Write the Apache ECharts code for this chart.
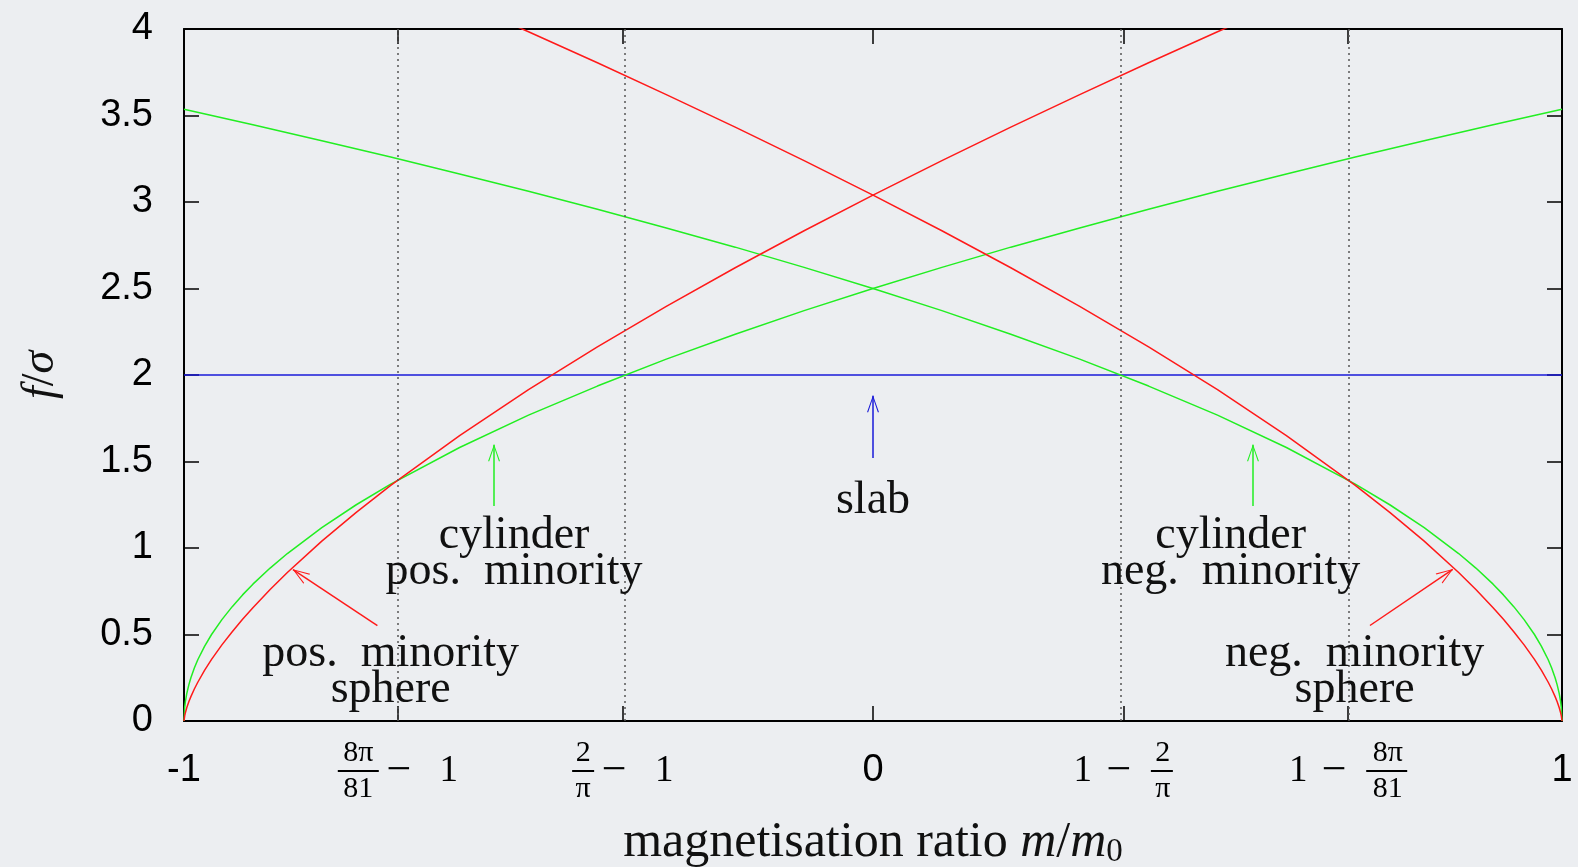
<!DOCTYPE html>
<html>
<head>
<meta charset="utf-8">
<title>Minority-phase energy vs magnetisation ratio</title>
<script src="https://cdn.jsdelivr.net/npm/echarts@6/dist/echarts.min.js"></script>
<style>
  html, body { margin: 0; padding: 0; background: #eceef1; }
  #chart { width: 1578px; height: 867px; }
</style>
</head>
<body>
<div id="chart"></div>
<script>
// magnetisation ratio m/m0 sampled along the positive-minority branches
const mPos = [-1, -0.999, -0.998, -0.996, -0.993, -0.99, -0.985, -0.98, -0.97, -0.96, -0.945, -0.93, -0.915, -0.9,
  -0.875, -0.85, -0.8, -0.75, -0.7, -0.6, -0.5, -0.4, -0.3, -0.2, -0.1, 0, 0.1, 0.2, 0.3, 0.4, 0.5, 0.6, 0.7, 0.8, 0.9, 1];
// same samples for the negative-minority branches
const mNeg = [1, 0.999, 0.998, 0.996, 0.993, 0.99, 0.985, 0.98, 0.97, 0.96, 0.945, 0.93, 0.915, 0.9,
  0.875, 0.85, 0.8, 0.75, 0.7, 0.6, 0.5, 0.4, 0.3, 0.2, 0.1, 0, -0.1, -0.2, -0.3, -0.4, -0.5, -0.6, -0.7, -0.8, -0.9, -1];

// f/sigma for a cylinder domain
const cylinderF = [0, 0.079, 0.112, 0.158, 0.209, 0.25, 0.306, 0.354, 0.433, 0.5, 0.586, 0.661, 0.729, 0.791,
  0.884, 0.968, 1.118, 1.25, 1.369, 1.581, 1.768, 1.936, 2.092, 2.236, 2.372, 2.5, 2.622, 2.739, 2.85, 2.958, 3.062,
  3.162, 3.26, 3.354, 3.446, 3.536];
// f/sigma for a sphere domain
const sphereF = [0, 0.03, 0.048, 0.077, 0.111, 0.141, 0.185, 0.224, 0.294, 0.356, 0.44, 0.516, 0.588, 0.655,
  0.76, 0.858, 1.04, 1.206, 1.362, 1.65, 1.915, 2.163, 2.397, 2.62, 2.834, 3.04, 3.239, 3.433, 3.621, 3.805, 3.984,
  4.159, 4.33, 4.498, 4.664, 4.826];
// f/sigma for a slab domain
const slabM = [-1, 1];
const slabF = [2, 2];

// x ticks: -1, 8pi/81-1, 2/pi-1, 0, 1-2/pi, 1-8pi/81, 1
const xTicks = [-1, -0.68971, -0.36338, 0, 0.36338, 0.68971, 1];
const xTickLabels = [
  '-1',
  '{n8|8π}{gap|}\n{b8|}{s8|}{mn|−}{s29|}{one|1}\n{n8|81}{gap|}',
  '{n2|2}{gap|}\n{b2|}{s8|}{mn|−}{s29|}{one|1}\n{n2|π}{gap|}',
  '0',
  '{gap|}{n2|2}\n{one|1}{s15|}{mn|−}{s20|}{b2|}\n{gap|}{n2|π}',
  '{gap|}{n8|8π}\n{one|1}{s15|}{mn|−}{s20|}{b8|}\n{gap|}{n8|81}',
  '1'
];
const guideTicks = [-0.68971, -0.36338, 0.36338, 0.68971];

const SERIF = 'Liberation Serif';
const SANS = 'Liberation Sans';
const arrowHead = 'path://M0,0 L7,16 L5.6,16 L0,2.6 L-5.6,16 L-7,16 Z';

const pairs = (xs, ys) => xs.map((x, i) => [x, ys[i]]);

const fracRich = {
  n8: { fontFamily: SERIF, fontSize: 30, lineHeight: 32, width: 41, align: 'center', color: '#000' },
  n2: { fontFamily: SERIF, fontSize: 30, lineHeight: 32, width: 22, align: 'center', color: '#000' },
  b8: { width: 41, height: 2, lineHeight: 4, backgroundColor: '#000' },
  b2: { width: 22, height: 2, lineHeight: 4, backgroundColor: '#000' },
  gap: { width: 79, lineHeight: 32 },
  s8: { width: 8, lineHeight: 4 },
  s15: { width: 15, lineHeight: 4 },
  s20: { width: 20, lineHeight: 4 },
  s29: { width: 29, lineHeight: 4 },
  mn: { fontFamily: SERIF, fontSize: 44, lineHeight: 4, width: 24, align: 'center', color: '#000' },
  one: { fontFamily: SERIF, fontSize: 37, lineHeight: 4, width: 18, align: 'center', color: '#000' }
};

function tickText(v) {
  const i = xTicks.findIndex(t => Math.abs(t - v) < 1e-6);
  return i < 0 ? '' : xTickLabels[i];
}

function arrowSet(color, lines) {
  return {
    silent: true,
    symbol: ['none', arrowHead],
    symbolSize: [12, 17],
    symbolOffset: [[0, 0], [0, 8]],
    label: { show: false },
    lineStyle: { color: color, width: 1.5, type: 'solid' },
    data: lines.map(l => [{ coord: l[0] }, { coord: l[1] }])
  };
}

const annotationStyle = {
  show: true, position: 'inside', fontFamily: SERIF, fontSize: 46, lineHeight: 36, color: '#111'
};

const curveStyle = color => ({ color: color, width: 1.5 });

const option = {
  backgroundColor: '#eceef1',
  animation: false,
  grid: { left: 184, right: 16, top: 29, bottom: 146, containLabel: false, outerBoundsMode: 'none' },
  xAxis: [
    {
      type: 'value', min: -1, max: 1, position: 'bottom',
      axisLine: { show: true, onZero: false, lineStyle: { color: '#000', width: 2 } },
      axisTick: { show: true, inside: true, length: 15, customValues: xTicks, lineStyle: { color: '#000', width: 1.5 } },
      axisLabel: {
        show: true, customValues: xTicks, formatter: tickText, margin: 50, verticalAlign: 'middle',
        fontFamily: SANS, fontSize: 38, color: '#000', rich: fracRich
      },
      splitLine: { show: false },
      name: 'magnetisation ratio {it|m}/{it|m}{sub|0}',
      nameLocation: 'middle', nameGap: 95,
      nameTextStyle: {
        fontFamily: SERIF, fontSize: 50, color: '#111',
        rich: {
          it: { fontFamily: SERIF, fontSize: 50, fontStyle: 'italic', color: '#111' },
          sub: { fontFamily: SERIF, fontSize: 33, color: '#111', padding: [20, 0, 0, 0] }
        }
      }
    },
    {
      type: 'value', min: -1, max: 1, position: 'top',
      axisLine: { show: true, onZero: false, lineStyle: { color: '#000', width: 2 } },
      axisTick: { show: true, inside: true, length: 15, customValues: xTicks, lineStyle: { color: '#000', width: 1.5 } },
      axisLabel: { show: false },
      splitLine: { show: false }
    }
  ],
  yAxis: [
    {
      type: 'value', min: 0, max: 4, interval: 0.5, position: 'left',
      axisLine: { show: true, onZero: false, lineStyle: { color: '#000', width: 2 } },
      axisTick: { show: true, inside: true, length: 15, lineStyle: { color: '#000', width: 1.5 } },
      axisLabel: { show: true, margin: 31, fontFamily: SANS, fontSize: 38, color: '#000',
        formatter: v => String(v) },
      splitLine: { show: false },
      name: '{it|f}/{it|σ}',
      nameLocation: 'middle', nameRotate: 90, nameGap: 120,
      nameTextStyle: {
        fontFamily: SERIF, fontSize: 46, color: '#111',
        rich: { it: { fontFamily: SERIF, fontSize: 46, fontStyle: 'italic', color: '#111' } }
      }
    },
    {
      type: 'value', min: 0, max: 4, interval: 0.5, position: 'right',
      axisLine: { show: true, onZero: false, lineStyle: { color: '#000', width: 2 } },
      axisTick: { show: true, inside: true, length: 15, lineStyle: { color: '#000', width: 1.5 } },
      axisLabel: { show: false },
      splitLine: { show: false }
    }
  ],
  series: [
    {
      name: 'slab', type: 'line', data: pairs(slabM, slabF),
      symbol: 'none', lineStyle: curveStyle('#1a1ad8'), z: 3,
      markLine: {
        silent: true, symbol: 'none', label: { show: false },
        lineStyle: { color: '#555', width: 1.5, type: [2, 4] },
        data: guideTicks.map(v => ({ xAxis: v }))
      }
    },
    {
      name: 'slab arrow', type: 'line', data: pairs(slabM, slabF),
      symbol: 'none', lineStyle: { opacity: 0 },
      markLine: arrowSet('#1a1ad8', [[[0, 1.52], [0, 1.88]]]),
      markPoint: {
        silent: true, symbol: 'circle', symbolSize: 1, itemStyle: { color: 'rgba(0,0,0,0)' },
        label: annotationStyle,
        data: [
          { coord: [0, 1.27], label: { formatter: 'slab' } },
          { coord: [-0.521, 0.968], label: { formatter: 'cylinder\npos.  minority' } },
          { coord: [0.519, 0.968], label: { formatter: 'cylinder\nneg.  minority' } },
          { coord: [-0.7, 0.285], label: { formatter: 'pos.  minority\nsphere' } },
          { coord: [0.699, 0.285], label: { formatter: 'neg.  minority\nsphere' } }
        ]
      }
    },
    {
      name: 'cylinder pos. minority', type: 'line', data: pairs(mPos, cylinderF),
      symbol: 'none', smooth: false, lineStyle: curveStyle('#22ee22'),
      markLine: arrowSet('#22ee22', [[[-0.55, 1.243], [-0.55, 1.597]]])
    },
    {
      name: 'cylinder neg. minority', type: 'line', data: pairs(mNeg, cylinderF),
      symbol: 'none', smooth: false, lineStyle: curveStyle('#22ee22'),
      markLine: arrowSet('#22ee22', [[[0.5515, 1.243], [0.5515, 1.597]]])
    },
    {
      name: 'sphere pos. minority', type: 'line', data: pairs(mPos, sphereF),
      symbol: 'none', smooth: false, lineStyle: curveStyle('#ff1a1a'),
      markLine: arrowSet('#ff1a1a', [[[-0.7193, 0.552], [-0.8418, 0.875]]])
    },
    {
      name: 'sphere neg. minority', type: 'line', data: pairs(mNeg, sphereF),
      symbol: 'none', smooth: false, lineStyle: curveStyle('#ff1a1a'),
      markLine: arrowSet('#ff1a1a', [[[0.7213, 0.552], [0.8414, 0.877]]])
    }
  ]
};

const chart = echarts.init(document.getElementById('chart'), null, { renderer: 'canvas' });
chart.setOption(option);
</script>
</body>
</html>
